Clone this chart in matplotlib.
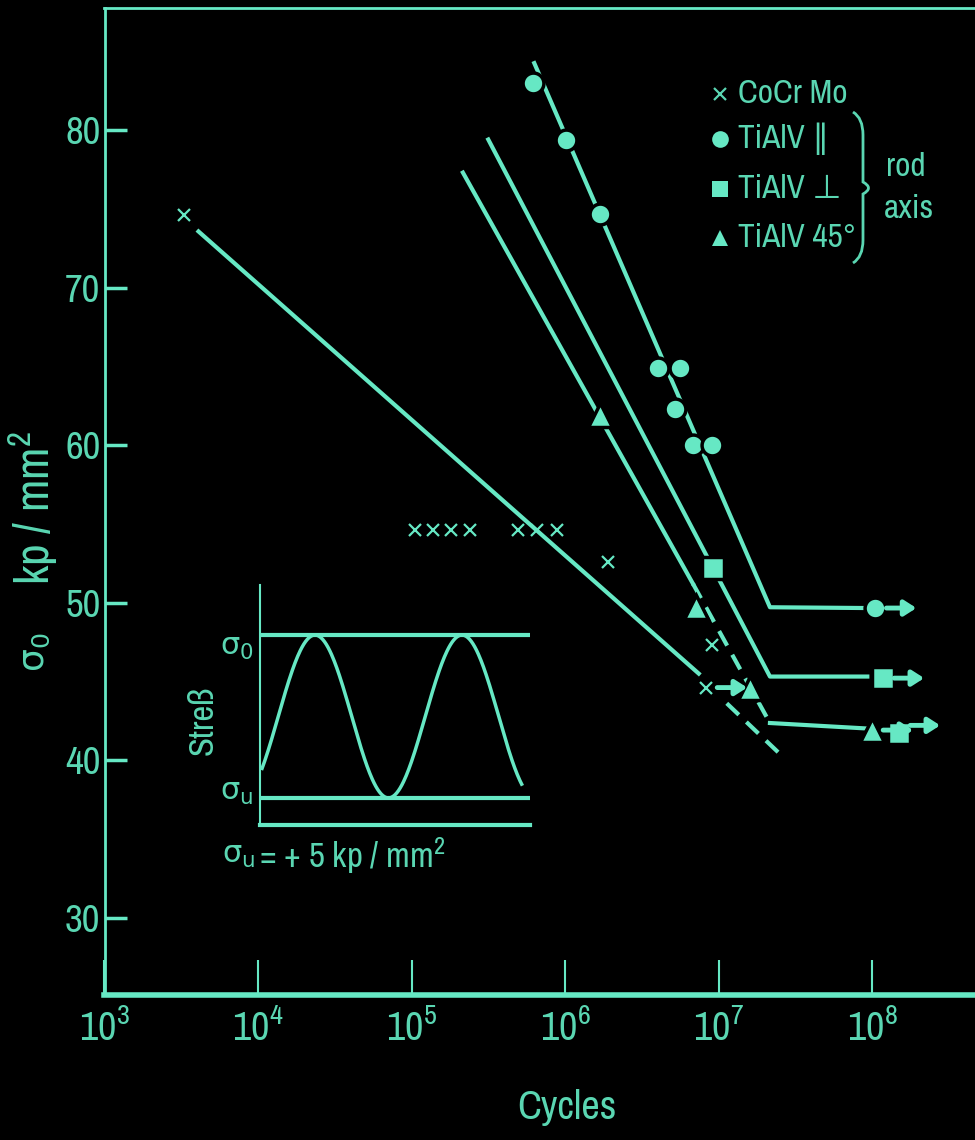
import numpy as np
import matplotlib
matplotlib.use('Agg')
import matplotlib.pyplot as plt
from matplotlib import font_manager as fm
from matplotlib.path import Path
from matplotlib.patches import PathPatch
from matplotlib.ticker import NullLocator

# the slide uses a narrow sans; take a condensed face if one is installed
narrow = None
for f in fm.fontManager.ttflist:
    if 'Narrow' in f.name or 'Condensed' in f.name:
        narrow = (f.name, 'normal')
        break
if narrow is None:
    for f in fm.fontManager.ttflist:
        if f.stretch in ('condensed', 'semi-condensed') and 'Sans' in f.name:
            narrow = (f.name, 'condensed')
            break
if narrow is None:
    narrow = ('DejaVu Sans', 'normal')
    SHRINK = 0.8
else:
    SHRINK = 1.0

plt.rcParams['font.family'] = [narrow[0], 'DejaVu Sans']
plt.rcParams['font.stretch'] = narrow[1]
plt.rcParams['mathtext.default'] = 'regular'
GREEK = ['DejaVu Sans']   # sigma is drawn in DejaVu, the narrow face lacks it

GREEN = '#66e8c4'
TXT = '#5ad6b2'
W, H = 975, 1140

# --- measured points (cycles, stress in kp/mm^2) ---
cocr_n = [3.3e3, 1.05e5, 1.38e5, 1.82e5, 2.4e5, 4.9e5, 6.6e5, 8.9e5, 1.9e6, 9.1e6]
cocr_s = [74.6, 54.6, 54.6, 54.6, 54.6, 54.6, 54.6, 54.6, 52.6, 47.3]
cocr_run_n = [8.3e6]
cocr_run_s = [44.6]

par_n = [6.2e5, 1.02e6, 1.7e6, 4.0e6, 5.6e6, 5.2e6, 6.8e6, 9.1e6]
par_s = [83.0, 79.4, 74.7, 64.9, 64.9, 62.3, 60.0, 60.0]
par_run_n = [1.05e8]
par_run_s = [49.65]

perp_n = [9.2e6]
perp_s = [52.2]
perp_run_n = [1.18e8, 1.5e8]
perp_run_s = [45.2, 41.7]

d45_n = [1.7e6, 7.1e6, 1.6e7]
d45_s = [61.9, 49.7, 44.6]
d45_run_n = [1.0e8]
d45_run_s = [41.9]

# --- fitted curves ---
cocr_fit_n = [4.0e3, 7.6e6]
cocr_fit_s = [73.65, 45.4]
cocr_dash_n = [1.13e7, 2.5e7]
cocr_dash_s = [43.6, 40.4]

par_fit_n = [6.3e5, 2.16e7, 9.3e7]
par_fit_s = [84.25, 49.7, 49.65]

perp_fit_n = [3.16e5, 2.16e7, 9.3e7]
perp_fit_s = [79.4, 45.3, 45.3]

d45_fit_n = [2.16e5, 6.8e6, 2.16e7, 9.3e7]
d45_fit_s = [77.3, 51.2, 42.35, 42.0]

xticks = [1e3, 1e4, 1e5, 1e6, 1e7, 1e8]
xtick_labels = ['$10^{%d}$' % i for i in range(3, 9)]
yticks = [30, 40, 50, 60, 70, 80]

legend_labels = ['CoCr Mo', 'TiAlV \u2225', 'TiAlV \u22a5', 'TiAlV 45\u00b0']
legend_markers = ['x', 'o', 's', '^']


def fx(px):
    return px / W


def fy(py):
    return 1 - py / H


def fs(size):
    return size * SHRINK


fig = plt.figure(figsize=(W / 100, H / 100), dpi=100, facecolor='black')
ax = fig.add_axes([fx(104.5), fy(995), 1 - fx(104.5), (995 - 8) / H])
ax.set_facecolor('black')
ax.set_xscale('log')
ax.set_xlim(1e3, 10 ** 8.67)
ax.set_ylim(25.08, 87.75)

for side in ['left', 'top', 'bottom']:
    ax.spines[side].set_color(GREEN)
ax.spines['right'].set_visible(False)
ax.spines['left'].set_linewidth(2)
ax.spines['top'].set_linewidth(2)
ax.spines['bottom'].set_linewidth(4)

ax.set_xticks(xticks)
ax.set_xticklabels(xtick_labels)
ax.xaxis.set_minor_locator(NullLocator())
ax.set_yticks(yticks)
ax.tick_params(axis='x', direction='in', length=25, width=1.5, color=GREEN,
               labelcolor=TXT, labelsize=fs(29), pad=9)
ax.tick_params(axis='y', direction='in', length=16, width=2.5, color=GREEN,
               labelcolor=TXT, labelsize=fs(28), pad=3)

# fit lines
lw = 3
ax.plot(cocr_fit_n, cocr_fit_s, color=GREEN, lw=lw, solid_capstyle='butt')
ax.plot(cocr_dash_n, cocr_dash_s, color=GREEN, lw=lw, ls=(0, (4, 2.5)))
ax.plot(par_fit_n, par_fit_s, color=GREEN, lw=lw)
ax.plot(perp_fit_n, perp_fit_s, color=GREEN, lw=lw)
ax.plot(d45_fit_n[:2], d45_fit_s[:2], color=GREEN, lw=lw)
ax.plot(d45_fit_n[1:3], d45_fit_s[1:3], color=GREEN, lw=lw, ls=(0, (4, 2.5)))
ax.plot(d45_fit_n[2:], d45_fit_s[2:], color=GREEN, lw=lw)

# data points, black edge gives the little gap around each symbol
mk = dict(ls='none', color=GREEN, mec='black', mew=2.5)
ax.plot(par_n + par_run_n, par_s + par_run_s, marker='o', ms=15, **mk)
ax.plot(perp_n + perp_run_n, perp_s + perp_run_s, marker='s', ms=16, **mk)
ax.plot(d45_n + d45_run_n, d45_s + d45_run_s, marker='^', ms=17, **mk)
ax.plot(cocr_n + cocr_run_n, cocr_s + cocr_run_s, ls='none', marker='x',
        ms=9, mew=1.6, color=GREEN)

# run-outs: short arrows to the right
run_n = cocr_run_n + par_run_n + perp_run_n + d45_run_n
run_s = cocr_run_s + par_run_s + perp_run_s + d45_run_s
run_lift = [0, 0, 0, 0.5, 0]
for n, s, dy in zip(run_n, run_s, run_lift):
    ax.annotate('', xy=(n * 1.85, s + dy), xytext=(n * 1.18, s + dy),
                arrowprops=dict(arrowstyle='-|>,head_length=0.7,head_width=0.45',
                                color=GREEN, lw=3.5, shrinkA=0, shrinkB=0))

# axis labels (sigma part in DejaVu, the rest in the narrow face)
fig.text(fx(35), fy(652), '\u03c3$_0$', rotation=90, color=TXT,
         fontsize=fs(26), ha='center', va='center', family=GREEK)
fig.text(fx(33), fy(508), 'kp / mm$^2$', rotation=90, color=TXT,
         fontsize=fs(34), ha='center', va='center')
fig.text(fx(567), fy(1107), 'Cycles', color=TXT, fontsize=fs(29),
         ha='center', va='center')

# legend
leg_y = [94, 139, 189, 238]
for lab, m, py in zip(legend_labels, legend_markers, leg_y):
    if m == 'x':
        ax.plot([fx(720)], [fy(py)], marker='x', ms=8, mew=1.6, color=TXT,
                transform=fig.transFigure, clip_on=False)
    else:
        ax.plot([fx(720)], [fy(py)], marker=m, ms=12, color=GREEN, mew=0,
                transform=fig.transFigure, clip_on=False)
    fig.text(fx(738), fy(py), lab, color=TXT, fontsize=fs(24), ha='left',
             va='center')

# brace
bx = [853, 863, 863, 863, 874, 863, 863, 863, 853]
by = [112, 118, 135, 182, 188, 194, 240, 257, 263]
verts = [(fx(a), fy(b)) for a, b in zip(bx, by)]
codes = [Path.MOVETO, Path.CURVE3, Path.CURVE3, Path.LINETO, Path.CURVE3,
         Path.CURVE3, Path.LINETO, Path.CURVE3, Path.CURVE3]
fig.add_artist(PathPatch(Path(verts, codes), fill=False, edgecolor=TXT,
                         lw=2, transform=fig.transFigure))
fig.text(fx(886), fy(167), 'rod', color=TXT, fontsize=fs(24), ha='left',
         va='center')
fig.text(fx(884), fy(209), 'axis', color=TXT, fontsize=fs(24), ha='left',
         va='center')

# inset: load cycle sketch
ins = fig.add_axes([fx(260), fy(825), (530 - 260) / W, (825 - 585) / H])
ins.set_facecolor('none')
ins.set_xlim(0, (530 - 260) / 147)
ins.set_ylim(-0.166, 1.307)
for side in ['top', 'right']:
    ins.spines[side].set_visible(False)
ins.spines['left'].set_color(GREEN)
ins.spines['left'].set_linewidth(1.5)
ins.spines['bottom'].set_color(GREEN)
ins.spines['bottom'].set_linewidth(3)
ins.set_xticks([])
ins.set_yticks([])
ins.axhline(1, color=GREEN, lw=3)
ins.axhline(0, color=GREEN, lw=3)
t = np.linspace(0.014, 1.78, 300)
ins.plot(t, 0.5 + 0.5 * np.cos(2 * np.pi * (t - 0.374)), color=GREEN, lw=2.5)

fig.text(fx(237), fy(647), '\u03c3$_0$', color=TXT, fontsize=fs(22),
         ha='center', va='center', family=GREEK)
fig.text(fx(237), fy(792), '\u03c3$_u$', color=TXT, fontsize=fs(22),
         ha='center', va='center', family=GREEK)
fig.text(fx(203), fy(720), 'Stre\u00df', color=TXT, fontsize=fs(25),
         rotation=90, ha='center', va='center')
fig.text(fx(222), fy(856), '\u03c3$_u$', color=TXT, fontsize=fs(22),
         ha='left', va='center', family=GREEK)
fig.text(fx(259), fy(856), '= + 5 kp / mm$^2$', color=TXT,
         fontsize=fs(25), ha='left', va='center')

fig.savefig('out.png', dpi=100, facecolor='black')
